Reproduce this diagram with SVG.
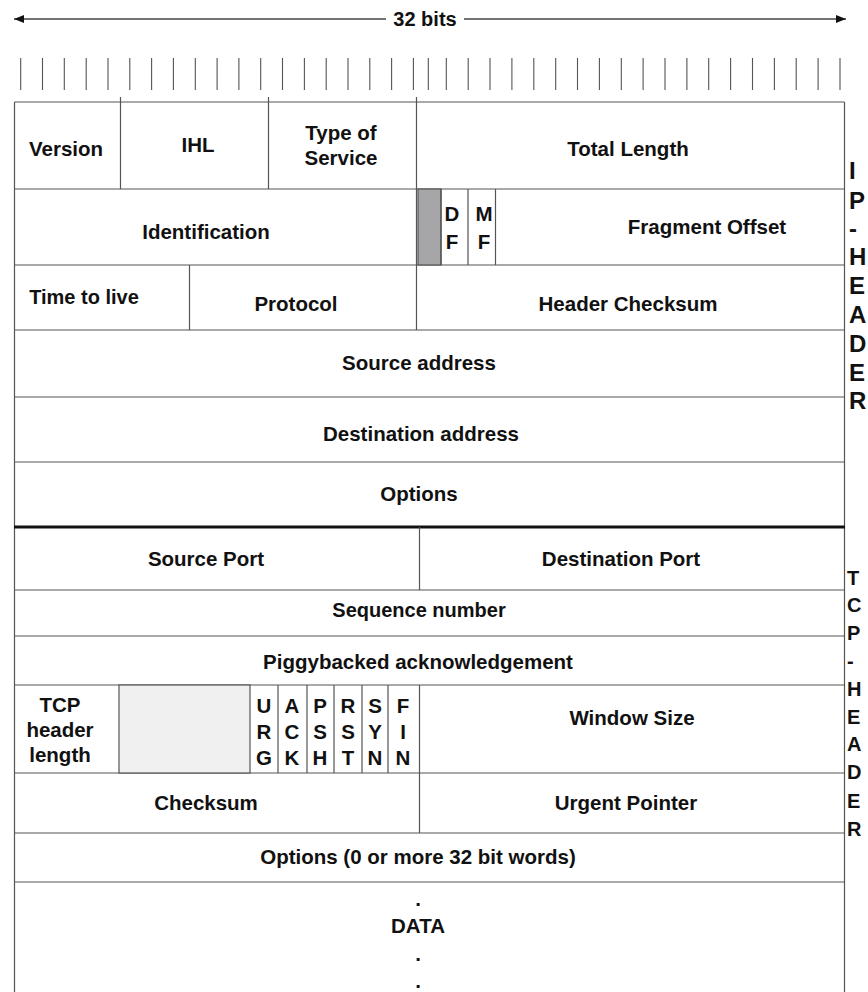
<svg xmlns="http://www.w3.org/2000/svg" width="868" height="992" viewBox="0 0 868 992">
<style>
text{font-family:"Liberation Sans",Arial,sans-serif;font-weight:bold;font-size:20.5px;fill:#111;text-anchor:middle}
.side{font-size:24px;text-anchor:start}
.sideT{font-size:20px;text-anchor:start}
.b{stroke:#555;stroke-width:1.2;fill:none}
.tk{stroke:#555;stroke-width:1.1}
</style>
<defs>
<marker id="ah" viewBox="0 0 10 10" refX="10" refY="5" markerWidth="10" markerHeight="10" markerUnits="userSpaceOnUse" orient="auto-start-reverse"><path d="M0,1 L10,5 L0,9 Z" fill="#111"/></marker>
</defs>
<rect width="868" height="992" fill="#fff"/>

<g id="connectors">
<line x1="14" y1="19" x2="386" y2="19" stroke="#444" stroke-width="1.3" marker-start="url(#ah)"/>
<line x1="464" y1="19" x2="846" y2="19" stroke="#444" stroke-width="1.3" marker-end="url(#ah)"/>
</g>
<g id="title"><text x="425" y="26" style="font-size:20px">32 bits</text></g>

<g id="ruler">
<path class="tk" d="M20.7,58V90M42.5,58V90M64.3,58V90M86.2,58V90M108,58V90M129.8,58V90M151.6,58V90M173.4,58V90M195.3,58V90M217.1,58V90M238.9,58V90M260.7,58V90M282.5,58V90M304.4,58V90M326.2,58V90M348,58V90M369.8,58V90M391.6,58V90M413.4,58V90M428.3,58V90M446.3,58V90M468.2,58V90M490,58V90M511.9,58V90M533.8,58V90M555.7,58V90M577.5,58V90M599.4,58V90M621.3,58V90M643.1,58V90M665,58V90M686.9,58V90M708.7,58V90M730.6,58V90M752.5,58V90M774.4,58V90M796.2,58V90M818.1,58V90M840,58V90"/>
</g>

<g id="table-frame">
<path class="b" d="M14.5,102H844.5M14.5,102V992M844.5,102V992"/>
<path class="b" d="M120.5,97V189M268.5,97V189M416.5,97V330"/>
<path class="b" d="M14.5,189H844.5M14.5,265H844.5M14.5,330H844.5M14.5,397H844.5M14.5,462H844.5"/>
<path class="b" d="M189.5,265V330"/>
<line x1="14" y1="527" x2="845" y2="527" stroke="#111" stroke-width="3"/>
<path class="b" d="M14.5,590H844.5M14.5,636H844.5M14.5,685H844.5M14.5,773H844.5M14.5,833H844.5M14.5,882H844.5"/>
<path class="b" d="M419.5,527V590M419.5,685V833"/>
</g>

<g id="version"><text x="66" y="156">Version</text></g>
<g id="ihl"><text x="198" y="152">IHL</text></g>
<g id="tos"><text x="341" y="140">Type of</text><text x="341" y="165">Service</text></g>
<g id="total-length"><text x="628" y="156">Total Length</text></g>

<g id="identification"><text x="206" y="239">Identification</text></g>
<g id="reserved-bit"><rect x="418" y="189" width="23" height="76" fill="#a6a6a8" stroke="#555" stroke-width="1.2"/></g>
<g id="df"><path class="b" d="M441,189V265M468,189V265"/><text x="452" y="221">D</text><text x="452" y="249">F</text></g>
<g id="mf"><path class="b" d="M495.5,189V265"/><text x="484" y="221">M</text><text x="484" y="249">F</text></g>
<g id="fragment-offset"><text x="707" y="234">Fragment Offset</text></g>

<g id="ttl"><text x="84" y="304" style="font-size:20px">Time to live</text></g>
<g id="protocol"><text x="296" y="311">Protocol</text></g>
<g id="header-checksum"><text x="628" y="311">Header Checksum</text></g>
<g id="source-address"><text x="419" y="370">Source address</text></g>
<g id="destination-address"><text x="421" y="441">Destination address</text></g>
<g id="ip-options"><text x="419" y="501">Options</text></g>

<g id="ip-header-label">
<text class="side" x="849" y="179">I</text>
<text class="side" x="849" y="209">P</text>
<text class="side" x="849" y="237">-</text>
<text class="side" x="849" y="265">H</text>
<text class="side" x="849" y="294">E</text>
<text class="side" x="849" y="323">A</text>
<text class="side" x="849" y="352">D</text>
<text class="side" x="849" y="381">E</text>
<text class="side" x="849" y="409">R</text>
</g>

<g id="source-port"><text x="206" y="566">Source Port</text></g>
<g id="destination-port"><text x="621" y="566">Destination Port</text></g>
<g id="sequence-number"><text x="419" y="617" style="font-size:20px">Sequence number</text></g>
<g id="ack"><text x="418" y="669">Piggybacked acknowledgement</text></g>

<g id="tcp-header-length"><text x="60" y="712">TCP</text><text x="60" y="737">header</text><text x="60" y="762">length</text></g>
<g id="tcp-reserved"><rect x="119" y="685" width="131" height="88" fill="#f0f0f0" stroke="#555" stroke-width="1.2"/></g>
<g id="flags">
<path class="b" d="M278,685V773M307,685V773M334,685V773M362,685V773M388,685V773"/>
<text x="264" y="713">U</text><text x="264" y="739">R</text><text x="264" y="765">G</text>
<text x="292" y="713">A</text><text x="292" y="739">C</text><text x="292" y="765">K</text>
<text x="320" y="713">P</text><text x="320" y="739">S</text><text x="320" y="765">H</text>
<text x="348" y="713">R</text><text x="348" y="739">S</text><text x="348" y="765">T</text>
<text x="375" y="713">S</text><text x="375" y="739">Y</text><text x="375" y="765">N</text>
<text x="403" y="713">F</text><text x="403" y="739">I</text><text x="403" y="765">N</text>
</g>
<g id="window-size"><text x="632" y="725">Window Size</text></g>
<g id="checksum"><text x="206" y="810">Checksum</text></g>
<g id="urgent-pointer"><text x="626" y="810">Urgent Pointer</text></g>
<g id="tcp-options"><text x="418" y="864">Options (0 or more 32 bit words)</text></g>
<g id="data"><text x="418" y="906">.</text><text x="418" y="933">DATA</text><text x="418" y="961">.</text><text x="418" y="988">.</text></g>

<g id="tcp-header-label">
<text class="sideT" x="847" y="585">T</text>
<text class="sideT" x="847" y="612">C</text>
<text class="sideT" x="847" y="640">P</text>
<text class="sideT" x="847" y="668">-</text>
<text class="sideT" x="847" y="696">H</text>
<text class="sideT" x="847" y="724">E</text>
<text class="sideT" x="847" y="751">A</text>
<text class="sideT" x="847" y="779">D</text>
<text class="sideT" x="847" y="808">E</text>
<text class="sideT" x="847" y="836">R</text>
</g>
</svg>
